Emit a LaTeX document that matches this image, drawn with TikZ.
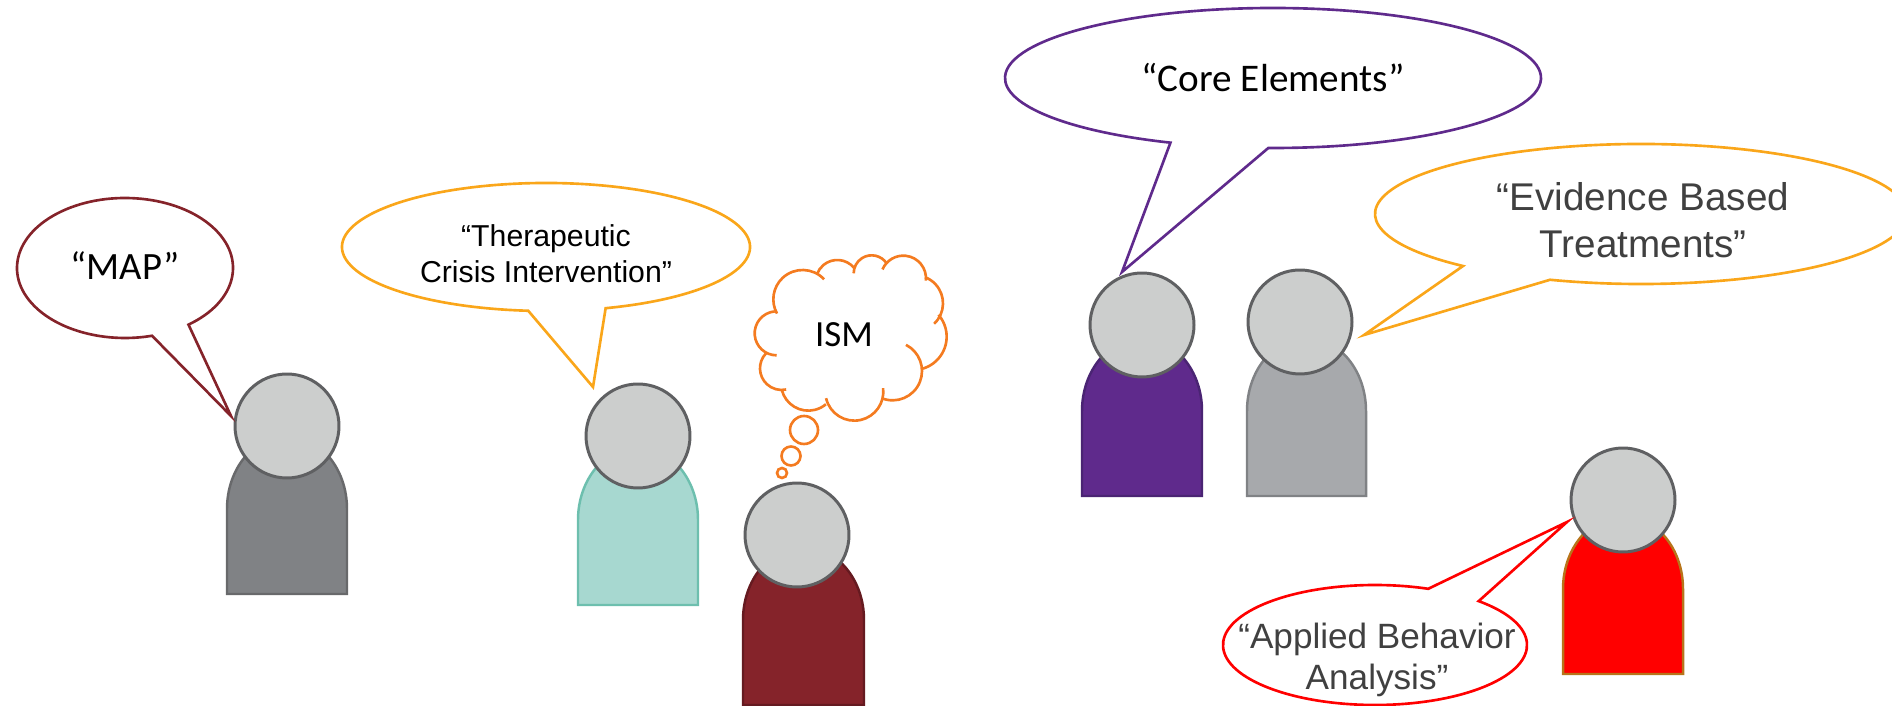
\documentclass[tikz,border=0pt]{standalone}
\usepackage{fontspec}
\setmainfont{Liberation Sans}
\newfontfamily\carlito{Carlito}
\definecolor{headfill}{HTML}{CCCECD}
\definecolor{headline}{HTML}{5F6062}
\definecolor{mapred}{HTML}{85232A}
\definecolor{mapline}{HTML}{651A20}
\definecolor{mapbody}{HTML}{808285}
\definecolor{mapbodyline}{HTML}{68696B}
\definecolor{tciorange}{HTML}{FAA61A}
\definecolor{cloudorange}{HTML}{F47B20}
\definecolor{corepurple}{HTML}{5F2A8C}
\definecolor{coreline}{HTML}{4A2473}
\definecolor{ebtbody}{HTML}{A7A9AC}
\definecolor{ebtline}{HTML}{808285}
\definecolor{darktext}{HTML}{404040}
\definecolor{tcifill}{HTML}{A7D8D0}
\definecolor{tciline}{HTML}{6DBFAE}
\definecolor{abaline}{HTML}{B8741A}
\tikzset{
  head/.style={circle,draw=headline,fill=headfill,line width=1.7pt,minimum size=2.08cm,inner sep=0pt},
  body/.style={line width=1.4pt},
  bubble/.style={line width=1.5pt,fill=white,line join=miter,miter limit=20},
  puff/.style={circle,draw=cloudorange,line width=1.5pt,inner sep=0pt},
  lobe/.style={draw=cloudorange,line width=1.5pt},
  calibritext/.style={font=\carlito\fontsize{#1}{#1}\selectfont,text=black,anchor=base},
  arialtext/.style 2 args={font=\fontsize{#1}{#2}\selectfont,text=darktext,align=center}
}
\begin{document}
\begin{tikzpicture}[x=0.02cm,y=0.02cm]
\useasboundingbox (0,0) rectangle (1892,706);

% MAP
\draw [body,fill=mapbody,draw=mapbodyline] (227,112) -- (227,197) arc[start angle=180,end angle=0,x radius=60,y radius=73] -- (347,112) -- cycle;
\node [head] (headmap) at (287,280) {};
\coordinate (tipmap) at (231,290);
\draw [bubble,draw=mapred] (125,438) ++(-54:108 and 70) arc[start angle=-54,end angle=284.5,x radius=108,y radius=70] -- (tipmap) -- cycle;
\node [calibritext=22pt] (textmap) at (125,426) {“MAP”};

% Therapeutic Crisis Intervention
\draw [body,fill=tcifill,draw=tciline] (578,101) -- (578,186) arc[start angle=180,end angle=0,x radius=60,y radius=73] -- (698,101) -- cycle;
\node [head] (headtci) at (638,270) {};
\coordinate (tiptci) at (593,319);
\draw [bubble,draw=tciorange] (546,459) ++(-73:204 and 64) arc[start angle=-73,end angle=265,x radius=204,y radius=64] -- (tiptci) -- cycle;
\node [arialtext={17.2pt}{20.4pt},text=black] (texttci) at (546,452) {“Therapeutic\\Crisis Intervention”};

% ISM
\draw [body,fill=mapred,draw=mapline] (743,1) -- (743,86) arc[start angle=180,end angle=0,x radius=60.5,y radius=73] -- (864,1) -- cycle;
\node [head] (headism) at (797,171) {};
\node [puff,minimum size=0.56cm] (puffa) at (804,276) {};
\node [puff,minimum size=0.38cm] (puffb) at (791,250) {};
\node [puff,minimum size=0.2cm] (puffc) at (782,233) {};
\begin{scope}[shift={(600,466)},x=0.02cm/3,y=0.02cm/3]
\draw [lobe] (608,-178) ++(43:88) arc[start angle=43,end angle=209,radius=88];
\draw [lobe] (530,-280) ++(95:66) arc[start angle=95,end angle=270,radius=66];
\draw [lobe] (545,-385) ++(137:65) arc[start angle=137,end angle=282,radius=65];
\draw [lobe] (625,-430) ++(194:82) arc[start angle=194,end angle=310,radius=82];
\draw [lobe] (763,-455) ++(193:87) arc[start angle=193,end angle=367,radius=87];
\draw [lobe] (878,-393) ++(248:88) arc[start angle=248,end angle=423,radius=88];
\draw [lobe] (940,-290) ++(-76:100) arc[start angle=-76,end angle=41,radius=100];
\draw [lobe] (945,-190) ++(-47:84) arc[start angle=-47,end angle=69,radius=84];
\draw [lobe] (910,-115) ++(-6:68) arc[start angle=-6,end angle=157,radius=68];
\draw [lobe] (815,-100) ++(32:54) arc[start angle=32,end angle=180,radius=54];
\draw [lobe] (712,-125) ++(40:65) arc[start angle=40,end angle=160,radius=65];
\end{scope}
\node [calibritext=21pt] (textism) at (844,359) {ISM};

% Core Elements
\draw [body,fill=corepurple,draw=coreline] (1082,210) -- (1082,295) arc[start angle=180,end angle=0,x radius=60,y radius=73] -- (1202,210) -- cycle;
\node [head] (headcore) at (1142,381) {};
\coordinate (tipcore) at (1122,434);
\draw [bubble,draw=corepurple] (1273,628) ++(-91:268 and 70) arc[start angle=-91,end angle=247.5,x radius=268,y radius=70] -- (tipcore) -- cycle;
\node [calibritext=22.3pt] (textcore) at (1273,614) {“Core Elements”};

% Evidence Based Treatments
\draw [body,fill=ebtbody,draw=ebtline] (1247,210) -- (1247,295) arc[start angle=180,end angle=0,x radius=59.5,y radius=73] -- (1366,210) -- cycle;
\node [head] (headebt) at (1300,384) {};
\coordinate (tipebt) at (1364,371);
\draw [bubble,draw=tciorange] (1641,492) ++(-110:266 and 70) arc[start angle=-110,end angle=228,x radius=266,y radius=70] -- (tipebt) -- cycle;
\node [arialtext={22pt}{27pt}] (textebt) at (1643,486) {“Evidence Based\\Treatments”};

% Applied Behavior Analysis
\draw [body,fill=red,draw=abaline] (1563,32) -- (1563,117) arc[start angle=180,end angle=0,x radius=60,y radius=73] -- (1683,32) -- cycle;
\node [head] (headaba) at (1623,206) {};
\coordinate (tipaba) at (1567,184);
\draw [bubble,draw=red] (1375,61) ++(47:152 and 60) arc[start angle=47,end angle=-290.5,x radius=152,y radius=60] -- (tipaba) -- cycle;
\node [arialtext={20pt}{23.5pt}] (textaba) at (1377,46) {“Applied Behavior\\Analysis”};
\end{tikzpicture}
\end{document}
